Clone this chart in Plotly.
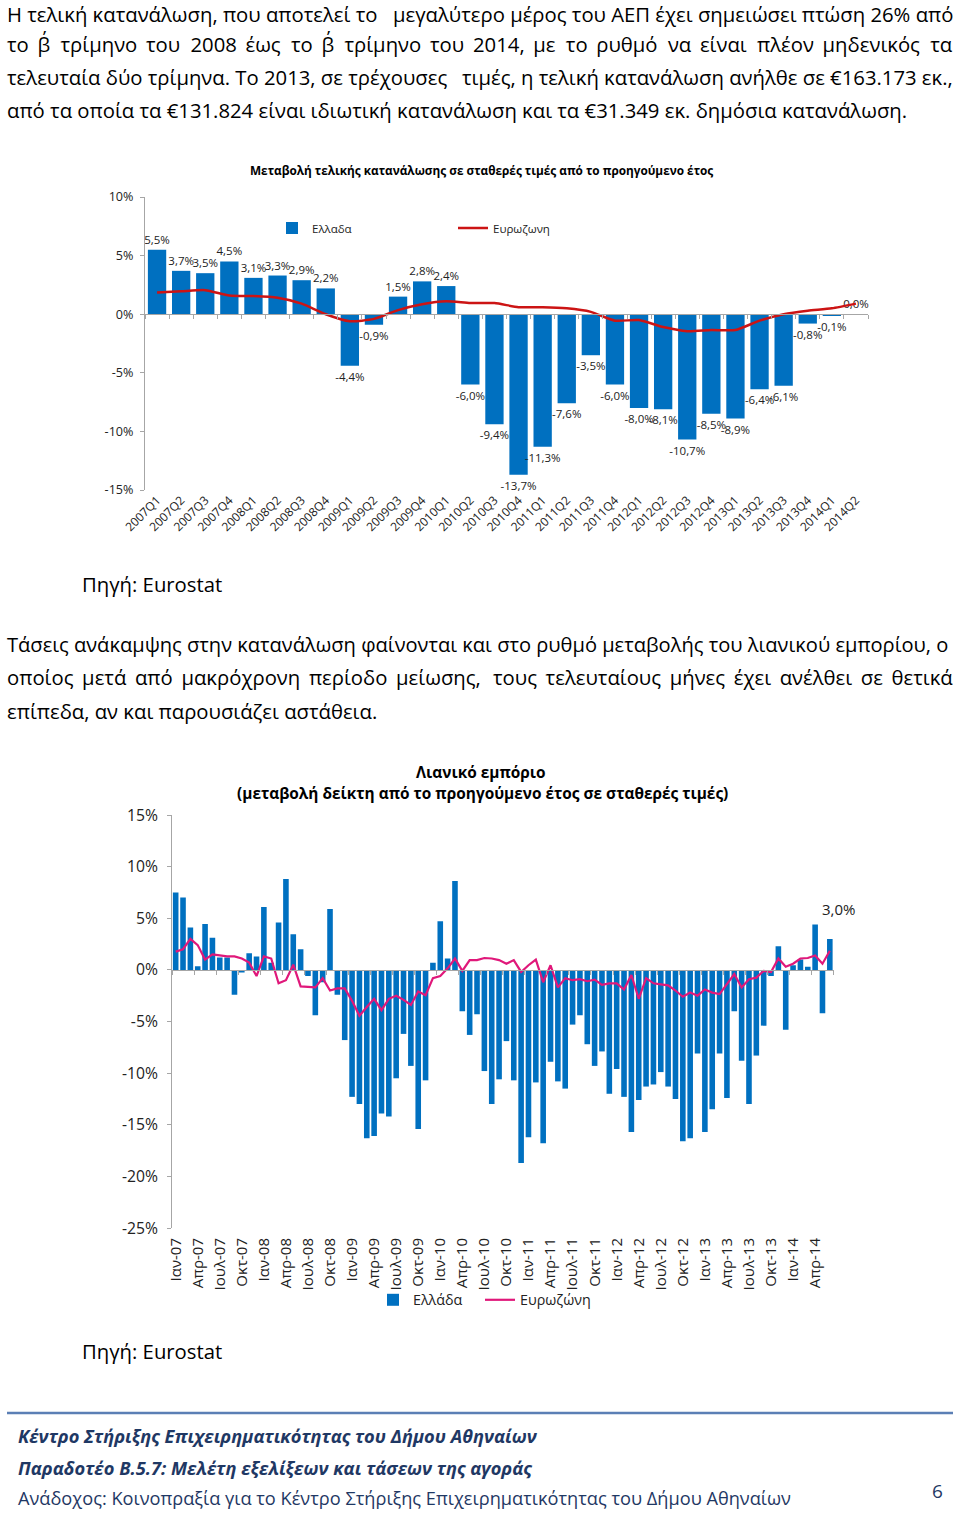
import plotly.graph_objects as go

W, H = 960, 1516

# ---------------- data: chart 1 (quarterly) ----------------
quarters = ['2007Q1', '2007Q2', '2007Q3', '2007Q4', '2008Q1', '2008Q2', '2008Q3', '2008Q4',
            '2009Q1', '2009Q2', '2009Q3', '2009Q4', '2010Q1', '2010Q2', '2010Q3', '2010Q4',
            '2011Q1', '2011Q2', '2011Q3', '2011Q4', '2012Q1', '2012Q2', '2012Q3', '2012Q4',
            '2013Q1', '2013Q2', '2013Q3', '2013Q4', '2014Q1', '2014Q2']
greece_q = [5.5, 3.7, 3.5, 4.5, 3.1, 3.3, 2.9, 2.2, -4.4, -0.9, 1.5, 2.8, 2.4, -6.0, -9.4,
            -13.7, -11.3, -7.6, -3.5, -6.0, -8.0, -8.1, -10.7, -8.5, -8.9, -6.4, -6.1, -0.8,
            -0.1, 0.0]
euro_q = [1.85, 1.95, 2.05, 1.6, 1.55, 1.4, 0.9, 0.0, -0.6, -0.4, 0.35, 0.85, 1.1, 0.95,
          0.95, 0.6, 0.6, 0.5, 0.2, -0.55, -0.5, -1.1, -1.45, -1.35, -1.35, -0.55, 0.0,
          0.3, 0.5, 0.9]
y1_ticks = [-15, -10, -5, 0, 5, 10]

# ---------------- data: chart 2 (monthly retail) ----------------
month_names = ['Ιαν', 'Φεβ', 'Μαρ', 'Απρ', 'Μαϊ', 'Ιουν', 'Ιουλ', 'Αυγ', 'Σεπ', 'Οκτ', 'Νοε', 'Δεκ']
years = ['07', '08', '09', '10', '11', '12', '13', '14']
greece_m = [7.5, 7.0, 4.1, 0.35, 4.45, 3.1, 1.2, 1.2, -2.4, -0.25, 1.6, 1.3,
            6.1, 0.7, 4.6, 8.8, 3.45, 2.0, -0.6, -4.4, -1.2, 5.9, -2.4, -6.8,
            -12.3, -13.0, -16.3, -16.1, -13.9, -14.2, -10.5, -6.2, -9.3, -15.4, -10.7, 0.7,
            4.7, 1.1, 8.6, -4.0, -6.3, -4.3, -9.8, -13.0, -10.6, -6.9, -10.7, -18.7,
            -16.2, -10.9, -16.8, -8.9, -10.8, -11.5, -5.3, -4.4, -7.2, -9.3, -7.9, -12.0,
            -9.6, -12.3, -15.7, -12.6, -11.3, -11.1, -9.9, -11.3, -12.5, -16.6, -16.3, -8.1,
            -15.7, -13.5, -8.1, -12.4, -4.0, -8.8, -13.0, -8.3, -5.4, -0.6, 2.3, -5.8,
            0.45, 1.0, 0.3, 4.4, -4.2, 3.0]
euro_m = [1.77, 2.0, 3.0, 2.4, 1.0, 1.5, 1.4, 1.3, 1.3, 1.1, 0.7, -0.6,
          1.3, 1.1, -1.3, -1.0, 0.5, -1.6, -1.65, -1.7, -0.8, -2.0, -1.8, -1.8,
          -3.0, -4.45, -3.6, -2.8, -3.9, -2.8, -2.5, -2.9, -3.4, -2.1, -2.45, -0.8,
          -0.6, 0.15, 1.1, -0.1, 0.95, 0.95, 1.15, 1.1, 0.95, 0.6, 0.95, -0.2,
          0.45, 1.0, -1.2, 0.45, -1.7, -0.8, -1.0, -0.9, -1.1, -0.95, -1.45, -1.3,
          -1.3, -1.9, -0.5, -2.8, -0.8, -1.3, -1.4, -1.5, -2.0, -2.6, -2.2, -2.5,
          -1.9, -2.2, -2.35, -1.4, -0.4, -1.7, -0.9, -0.75, -0.1, -0.2, 1.1, 0.3,
          0.6, 1.1, 1.15, 1.4, 0.6, 1.85]
y2_ticks = [-25, -20, -15, -10, -5, 0, 5, 10, 15]

months = [f'{m}-{y}' for y in years for m in month_names][:len(greece_m)]

# ---------------- text ----------------
para1 = ["Η τελική κατανάλωση, που αποτελεί το μεγαλύτερο μέρος του ΑΕΠ έχει σημειώσει πτώση 26% από",
         "το β΄ τρίμηνο του 2008 έως το β΄ τρίμηνο του 2014, με το ρυθμό να είναι πλέον μηδενικός τα",
         "τελευταία δύο τρίμηνα. Το 2013, σε τρέχουσες τιμές, η τελική κατανάλωση ανήλθε σε €163.173 εκ.,",
         "από τα οποία τα €131.824 είναι ιδιωτική κατανάλωση και τα €31.349 εκ. δημόσια κατανάλωση."]
para2 = ["Τάσεις ανάκαμψης στην κατανάλωση φαίνονται και στο ρυθμό μεταβολής του λιανικού εμπορίου, ο",
         "οποίος μετά από μακρόχρονη περίοδο μείωσης, τους τελευταίους μήνες έχει ανέλθει σε θετικά",
         "επίπεδα, αν και παρουσιάζει αστάθεια."]

BLUE = '#0070C0'
RED = '#CC1414'
MAGENTA = '#E0187A'
AXIS = '#A6A6A6'
FONT = 'Open Sans'
BODY = 20.3


def px(x):
    return x / W


def py(y):
    return 1 - y / H


def pct(v):
    return f'{v:.1f}'.replace('.', ',') + '%'


def tick_txt(v):
    return f'{v}%'


fig = go.Figure()

# chart 1
fig.add_trace(go.Bar(x=quarters, y=greece_q, name='Ελλαδα', marker_color=BLUE,
                     text=[pct(v) for v in greece_q], textposition='outside',
                     constraintext='none', cliponaxis=False,
                     textfont=dict(size=11.5, color='#222', family=FONT),
                     xaxis='x', yaxis='y', legend='legend'))
fig.add_trace(go.Scatter(x=list(range(len(euro_q))), y=euro_q, name='Ευρωζωνη', mode='lines',
                         line=dict(color=RED, width=2.5, shape='spline', smoothing=0.6),
                         xaxis='x3', yaxis='y', legend='legend3'))

# chart 2
fig.add_trace(go.Bar(x=months, y=greece_m, name='Ελλάδα', marker_color=BLUE,
                     xaxis='x2', yaxis='y2', legend='legend2'))
fig.add_trace(go.Scatter(x=list(range(len(euro_m))), y=euro_m, name='Ευρωζώνη', mode='lines',
                         line=dict(color=MAGENTA, width=2.2),
                         xaxis='x4', yaxis='y2', legend='legend4'))

# domains
x1d = [px(145), px(868)]
y1d = [py(490), py(197)]
x2d = [px(172), px(833.5)]
y2d = [py(1228), py(815)]
y1r = [-15, 10]
y2r = [-25, 15]
zero1 = y1d[0] + (0 - y1r[0]) / (y1r[1] - y1r[0]) * (y1d[1] - y1d[0])
zero2 = y2d[0] + (0 - y2r[0]) / (y2r[1] - y2r[0]) * (y2d[1] - y2d[0])

nq = len(quarters)
nm = len(months)


def leg(x, y, size):
    return dict(orientation='h', x=px(x), y=py(y), xanchor='left', yanchor='middle',
                font=dict(size=size, color='#222'), bgcolor='rgba(0,0,0,0)', borderwidth=0)


fig.update_layout(
    template='none',
    width=W, height=H, margin=dict(l=0, r=0, t=0, b=0, pad=0, autoexpand=False),
    paper_bgcolor='white', plot_bgcolor='rgba(0,0,0,0)',
    font=dict(family=FONT, color='#222'),
    bargap=0.24,
    showlegend=True,
    xaxis=dict(domain=x1d, anchor='y', type='category', range=[-0.5, nq - 0.5],
               showline=False, ticks='', tickangle=-45, showgrid=False, automargin=False,
               tickfont=dict(size=12, color='#222')),
    yaxis=dict(domain=y1d, anchor='x', range=y1r, tickvals=y1_ticks,
               ticktext=[tick_txt(v) for v in y1_ticks], showline=True, linecolor=AXIS,
               ticks='outside', ticklen=4, tickcolor=AXIS, showgrid=False, zeroline=False,
               ticklabelstandoff=4, automargin=False, tickfont=dict(size=12.6, color='#222')),
    xaxis3=dict(domain=x1d, overlaying='x', anchor='free', position=zero1, type='linear',
                range=[-0.5, nq - 0.5], tickvals=[i - 0.5 for i in range(nq + 1)],
                ticks='outside', ticklen=4, tickcolor=AXIS, showline=True, linecolor=AXIS,
                showticklabels=False, showgrid=False, zeroline=False, automargin=False),
    xaxis2=dict(domain=x2d, anchor='y2', type='category', range=[-0.5, nm - 0.5],
                tickvals=months[::3], showline=False, ticks='', tickangle=-90, showgrid=False,
                ticklabelstandoff=6, automargin=False, tickfont=dict(size=15, color='#222')),
    yaxis2=dict(domain=y2d, anchor='x2', range=y2r, tickvals=y2_ticks,
                ticktext=[tick_txt(v) for v in y2_ticks], showline=True, linecolor=AXIS,
                ticks='outside', ticklen=4, tickcolor=AXIS, showgrid=False, zeroline=False,
                ticklabelstandoff=6, automargin=False, tickfont=dict(size=15.7, color='#222')),
    xaxis4=dict(domain=x2d, overlaying='x2', anchor='free', position=zero2, type='linear',
                range=[-0.5, nm - 0.5], tickvals=[i - 0.5 for i in range(0, nm + 1, 3)],
                ticks='outside', ticklen=4, tickcolor=AXIS, showline=True, linecolor=AXIS,
                showticklabels=False, showgrid=False, zeroline=False, automargin=False),
    legend=leg(272, 228, 11.5),
    legend3=leg(453, 228, 11.5),
    legend2=leg(373, 1300, 14.3),
    legend4=leg(480, 1300, 14.3),
)

ann = []


def text(x, y, s, size, anchor='left', bold=False, italic=False, color='#000'):
    t = s
    if bold:
        t = f'<b>{t}</b>'
    if italic:
        t = f'<i>{t}</i>'
    ann.append(dict(x=px(x), y=py(y), xref='paper', yref='paper', text=t, showarrow=False,
                    xanchor=anchor, yanchor='middle', align=anchor, borderpad=0, borderwidth=0,
                    font=dict(family=FONT, size=size, color=color)))


def join_wide(words, wides):
    out = words[0]
    for i, w in enumerate(words[1:]):
        out += ' ' + (wides[i % len(wides)] if wides else '') + w
    return out


def justified(line, y, wides=(), x0=7, x1=953):
    """Approximate a justified line: left half anchored left, right half anchored right,
    inner word gaps optionally widened with thin unicode spaces."""
    words = line.split(' ')
    half = len(line) / 2
    k, acc = 0, 0
    while k < len(words) and acc + len(words[k]) < half:
        acc += len(words[k]) + 1
        k += 1
    k = max(1, min(k, len(words) - 1))
    text(x0, y, join_wide(words[:k], list(wides)), BODY)
    text(x1, y, join_wide(words[k:], list(wides)), BODY, anchor='right')


p1_y = [13.5, 44, 77, 110]
justified(para1[0], p1_y[0])
justified(para1[1], p1_y[1], wides=('\u2009', '\u2005'))
justified(para1[2], p1_y[2])
text(7, p1_y[3], para1[3], BODY)

p2_y = [644, 677, 711]
text(7, p2_y[0], para2[0], 20.1)
justified(para2[1], p2_y[1], wides=('\u2006',))
text(7, p2_y[2], para2[2], BODY)

text(82, 584, 'Πηγή: Eurostat', BODY)
text(82, 1351, 'Πηγή: Eurostat', BODY)

text(481, 170, 'Μεταβολή τελικής κατανάλωσης σε σταθερές τιμές από το προηγούμενο έτος', 11.8,
     anchor='center', bold=True)
text(481, 772, 'Λιανικό εμπόριο', 15.4, anchor='center', bold=True)
text(482, 793, '(μεταβολή δείκτη από το προηγούμενο έτος σε σταθερές τιμές)', 15.4,
     anchor='center', bold=True)

FOOT = '#1F3864'
text(18, 1435, 'Κέντρο Στήριξης Επιχειρηματικότητας του Δήμου Αθηναίων', 18.3, bold=True,
     italic=True, color=FOOT)
text(18, 1467, 'Παραδοτέο Β.5.7: Μελέτη εξελίξεων και τάσεων της αγοράς', 18.3, bold=True,
     italic=True, color=FOOT)
text(18, 1498, 'Ανάδοχος: Κοινοπραξία για το Κέντρο Στήριξης Επιχειρηματικότητας του Δήμου Αθηναίων',
     18.2, color=FOOT)
text(937, 1491, '6', 19, anchor='center', color=FOOT)

# data label on last retail bar
ann.append(dict(x=months[-1], y=greece_m[-1], xref='x2', yref='y2', text=pct(greece_m[-1]),
                showarrow=False, yanchor='bottom', yshift=18, xshift=9,
                font=dict(family=FONT, size=15, color='#222')))

fig.update_layout(annotations=ann)
fig.add_shape(type='line', xref='paper', yref='paper', x0=px(7), x1=px(953), y0=py(1413),
              y1=py(1413), line=dict(color='#5B7FB5', width=2.5))

fig.write_html('out.html')
